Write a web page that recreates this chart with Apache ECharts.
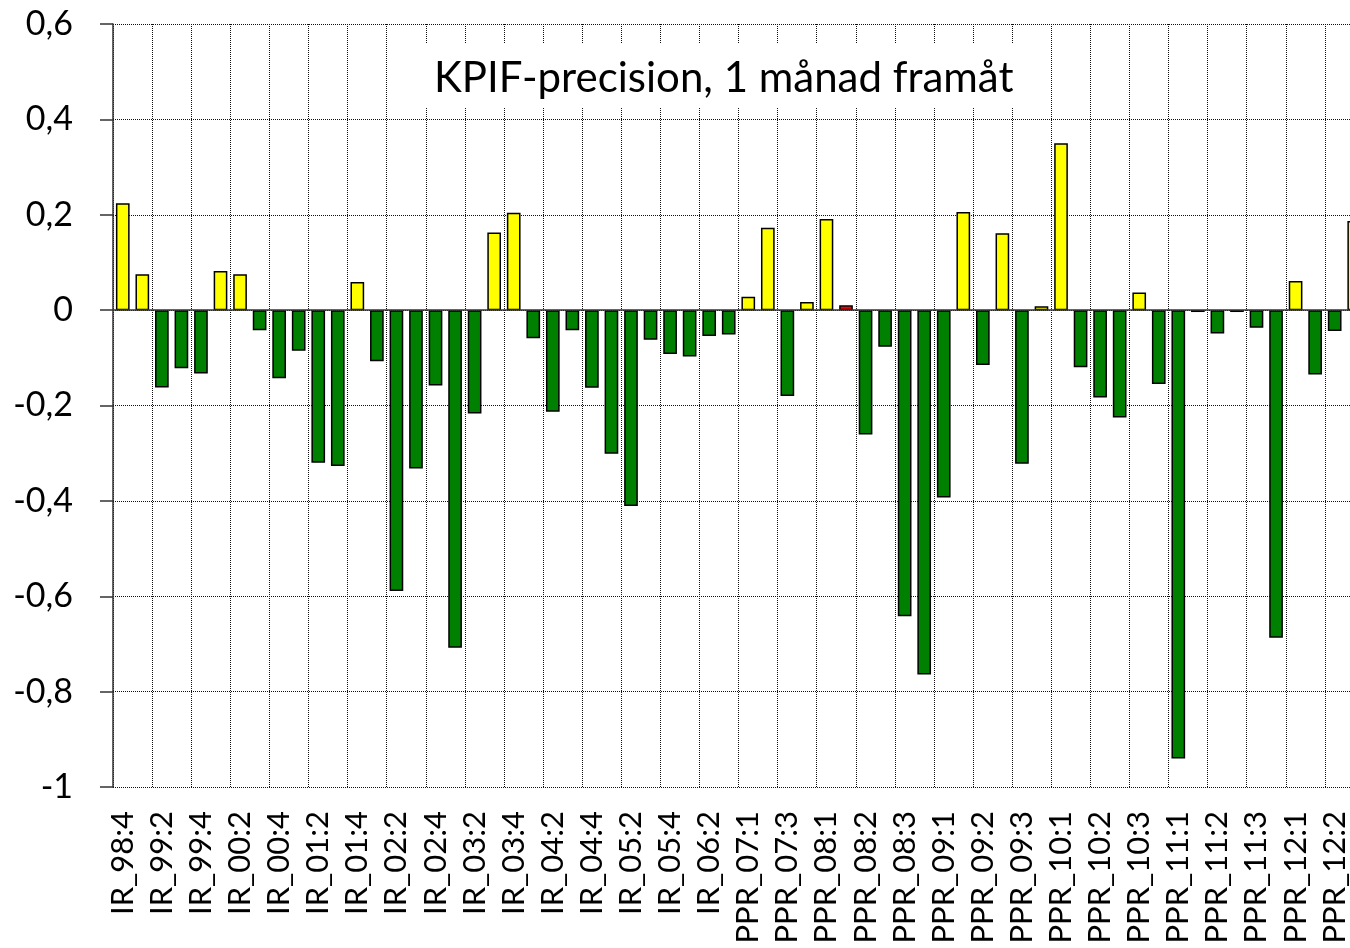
<!DOCTYPE html>
<html>
<head>
<meta charset="utf-8">
<title>KPIF-precision, 1 månad framåt</title>
<script src="https://cdn.jsdelivr.net/npm/echarts@6/dist/echarts.min.js"></script>
<style>
  html, body { margin: 0; padding: 0; background: #fff; }
  #chart { width: 1350px; height: 948px; }
</style>
</head>
<body>
<div id="chart"></div>
<script>
// report names, every other one is labelled on the axis
const reports = [
    'IR_98:4', 'IR_99:1', 'IR_99:2', 'IR_99:3', 'IR_99:4', 'IR_00:1', 'IR_00:2', 'IR_00:3',
    'IR_00:4', 'IR_01:1', 'IR_01:2', 'IR_01:3', 'IR_01:4', 'IR_02:1', 'IR_02:2', 'IR_02:3',
    'IR_02:4', 'IR_03:1', 'IR_03:2', 'IR_03:3', 'IR_03:4', 'IR_04:1', 'IR_04:2', 'IR_04:3',
    'IR_04:4', 'IR_05:1', 'IR_05:2', 'IR_05:3', 'IR_05:4', 'IR_06:1', 'IR_06:2', 'IR_06:3',
    'PPR_07:1', 'PPR_07:2', 'PPR_07:3', 'PPU_07:3', 'PPR_08:1', 'PPU_08:1', 'PPR_08:2', 'PPU_08:2',
    'PPR_08:3', 'PPU_08:3', 'PPR_09:1', 'PPU_09:1', 'PPR_09:2', 'PPU_09:2', 'PPR_09:3', 'PPU_09:3',
    'PPR_10:1', 'PPU_10:1', 'PPR_10:2', 'PPU_10:2', 'PPR_10:3', 'PPU_10:3', 'PPR_11:1', 'PPU_11:1',
    'PPR_11:2', 'PPU_11:2', 'PPR_11:3', 'PPU_11:3', 'PPR_12:1', 'PPU_12:1', 'PPR_12:2', 'PPU_12:2'
];

// forecast error, percentage points
const errors = [
    0.224, 0.075, -0.162, -0.122, -0.133, 0.082, 0.075, -0.042,
    -0.143, -0.085, -0.320, -0.327, 0.059, -0.107, -0.589, -0.332,
    -0.158, -0.708, -0.217, 0.163, 0.204, -0.059, -0.213, -0.042,
    -0.163, -0.301, -0.411, -0.062, -0.092, -0.097, -0.054, -0.051,
    0.028, 0.173, -0.180, 0.017, 0.191, 0.010, -0.261, -0.077,
    -0.642, -0.764, -0.393, 0.206, -0.115, 0.161, -0.322, 0.008,
    0.350, -0.120, -0.183, -0.225, 0.037, -0.155, -0.940, -0.004,
    -0.049, -0.004, -0.037, -0.687, 0.061, -0.135, -0.044, 0.187
];

const markedReport = 'PPU_08:1'; // drawn red in the original

const yTicks = [-1, -0.8, -0.6, -0.4, -0.2, 0, 0.2, 0.4, 0.6];

const fontFamily = 'Lato, "Open Sans", sans-serif';

const barColor = (p) => {
    if (reports[p.dataIndex] === markedReport) return '#ff0000';
    return p.value >= 0 ? '#ffff00' : '#008000';
};

const myChart = echarts.init(document.getElementById('chart'));

const option = {
    backgroundColor: '#fff',
    animation: false,
    title: {
        text: 'KPIF-precision, 1 månad framåt',
        left: 424,
        top: 43,
        padding: [14, 10, 8, 10],
        backgroundColor: '#fff',
        textStyle: {
            fontFamily: fontFamily,
            fontSize: 42,
            fontWeight: 'normal',
            color: '#000'
        }
    },
    grid: {
        left: 113,
        right: -14,
        top: 24,
        bottom: 161,
        containLabel: false,
        outerBoundsMode: 'none'
    },
    xAxis: {
        type: 'category',
        data: reports,
        boundaryGap: true,
        axisLine: { show: false },
        axisTick: { show: false },
        axisLabel: {
            interval: 1,
            rotate: 90,
            margin: 24,
            fontFamily: fontFamily,
            fontSize: 31,
            color: '#000'
        },
        splitLine: {
            show: true,
            interval: 1,
            lineStyle: { color: '#111', type: 'dotted', width: 1 }
        }
    },
    yAxis: {
        type: 'value',
        min: yTicks[0],
        max: yTicks[yTicks.length - 1],
        interval: 0.2,
        axisLine: { show: true, lineStyle: { color: '#333', width: 1.5 } },
        axisTick: { show: true, length: 13, lineStyle: { color: '#333', width: 1.5 } },
        axisLabel: {
            margin: 40,
            fontFamily: fontFamily,
            fontSize: 34,
            color: '#000',
            formatter: (v) => String(Math.round(v * 10) / 10).replace('.', ',')
        },
        splitLine: {
            show: true,
            lineStyle: { color: '#111', type: 'dotted', width: 1 }
        }
    },
    series: [
        {
            type: 'bar',
            data: errors,
            barWidth: '70%',
            itemStyle: {
                color: barColor,
                borderColor: '#000',
                borderWidth: 1.5
            },
            markLine: {
                silent: true,
                symbol: 'none',
                label: { show: false },
                lineStyle: { color: '#333', type: 'solid', width: 1.5 },
                data: [{ yAxis: 0 }]
            }
        }
    ]
};

myChart.setOption(option);
</script>
</body>
</html>
